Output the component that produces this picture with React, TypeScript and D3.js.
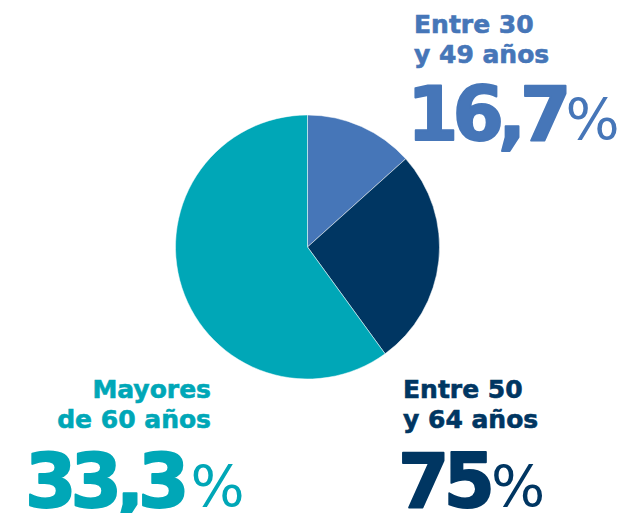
import React from "react";
import * as d3 from "d3";

const sliceNames = ["Entre 30 y 49 años", "Entre 50 y 64 años", "Mayores de 60 años"];
const sliceValues = [16.7, 33.3, 75];
const sliceColors = ["#4676b8", "#003662", "#00a7b7"];

const labelLines = [["Entre 30", "y 49 años"], ["Entre 50", "y 64 años"], ["Mayores", "de 60 años"]];
const labelValues = ["16,7", "75", "33,3"];
const labelColors = ["#4676b8", "#003662", "#00a7b7"];

const W = 625;
const H = 513;
const FONT = "'DejaVu Sans', sans-serif";

export default function App() {
  const cx = 307.5;
  const cy = 247;
  const r = 132;
  const pie = d3.pie<number>().sort(null).value((d) => d);
  const arc = d3.arc<d3.PieArcDatum<number>>().innerRadius(0).outerRadius(r);
  const arcs = pie(sliceValues);

  const layouts = [
    { anchor: "start", x: 414, y1: 33, y2: 63, yn: 140, xn: 407, pdx: 0 },
    { anchor: "start", x: 403, y1: 398, y2: 428, yn: 507, xn: 398, pdx: 2 },
    { anchor: "end", x: 211, y1: 398, y2: 428, yn: 507, xn: 25, pdx: 7 },
  ];

  return (
    <svg width={W} height={H} style={{ position: "absolute", left: 0, top: 0 }}>
      <rect width={W} height={H} fill="#fff" />
      <g transform={`translate(${cx},${cy})`}>
        {arcs.map((a, i) => (
          <path key={sliceNames[i]} d={arc(a) || ""} fill={sliceColors[i]} stroke="#fff" strokeWidth={0.5} />
        ))}
      </g>
      {layouts.map((l, i) => (
        <g key={i} fill={labelColors[i]} fontFamily={FONT}>
          <text x={l.x} y={l.y1} textAnchor={l.anchor} fontSize={25} fontWeight={700}
            stroke={labelColors[i]} strokeWidth={0.6}>
            {labelLines[i][0]}
          </text>
          <text x={l.x} y={l.y2} textAnchor={l.anchor} fontSize={25} fontWeight={700}
            stroke={labelColors[i]} strokeWidth={0.6}>
            {labelLines[i][1]}
          </text>
          <text x={l.xn} y={l.yn} fontSize={74} fontWeight={700} letterSpacing={-6}
            stroke={labelColors[i]} strokeWidth={1.8} strokeLinejoin="round">
            {labelValues[i]}
            <tspan fontSize={57} fontWeight={400} dx={l.pdx} strokeWidth={0} letterSpacing={0}>%</tspan>
          </text>
        </g>
      ))}
    </svg>
  );
}
